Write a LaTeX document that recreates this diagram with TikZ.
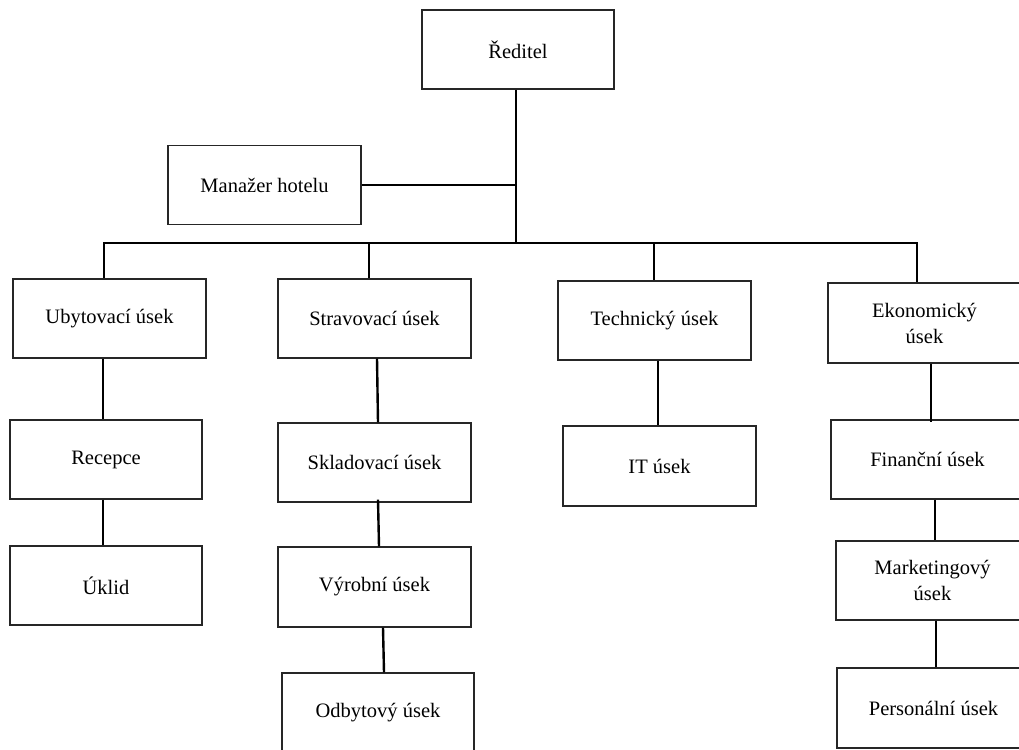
\documentclass[tikz,border=0pt]{standalone}
\usepackage{fontspec}
\setmainfont{Liberation Serif}
\begin{document}
\begin{tikzpicture}[x=1pt,y=-1pt,
  orgbox/.style={draw=black!85, line width=1.2pt, rectangle, inner sep=0pt,
    minimum width=193pt, minimum height=79pt, align=center,
    font=\fontsize{20.5}{26}\selectfont},
  link/.style={draw=black, line width=2.4pt}]
\clip (0,0) rectangle (1019,749);
\fill[white] (0,0) rectangle (1019,749);
% boxes (centres)
\node[orgbox, minimum width=192pt] (red) at (518,49.5) {Ředitel};
\node[orgbox] (man) at (264.5,185) {Manažer hotelu};
\node[orgbox] (uby) at (109.5,318.5) {Ubytovací úsek};
\node[orgbox] (str) at (374.5,318.5) {Stravovací úsek};
\node[orgbox] (tech) at (654.5,320.5) {Technický úsek};
\node[orgbox, minimum height=80pt] (eko) at (924.5,323) {Ekonomický\\úsek};
\node[orgbox, minimum width=192pt] (rec) at (106,459.5) {Recepce};
\node[orgbox] (skl) at (374.5,462.5) {Skladovací úsek};
\node[orgbox, minimum height=80pt] (it) at (659.5,466) {IT úsek};
\node[orgbox] (fin) at (927.5,459.5) {Finanční úsek};
\node[orgbox, minimum width=192pt] (ukl) at (106,585.5) {Úklid};
\node[orgbox, minimum height=80pt] (vyr) at (374.5,587) {Výrobní úsek};
\node[orgbox] (mkt) at (932.5,580.5) {Marketingový\\úsek};
\node[orgbox, minimum width=192pt] (odb) at (378,712.5) {Odbytový úsek};
\node[orgbox, minimum height=80pt] (per) at (933.5,708) {Personální úsek};
% bus coordinates
\coordinate (bus) at (516,243);
\coordinate (busL) at (104,243);
\coordinate (busR) at (917,243);
\coordinate (d2) at (369,243);
\coordinate (d3) at (654,243);
% connectors
\draw[link] ([xshift=-2pt]red.south) -- (bus);
\draw[link] (man.east) -- (man.east -| bus);
\draw[link, line cap=rect] (busL) -- (busR);
\draw[link] (busL) -- (busL |- uby.north);
\draw[link] (d2) -- (d2 |- str.north);
\draw[link] (d3) -- (d3 |- tech.north);
\draw[link] (busR) -- (busR |- eko.north);
\draw[link] ([xshift=-6.5pt]uby.south) -- ([xshift=-3pt]rec.north);
\draw[link] ([xshift=-3pt]rec.south) -- ([xshift=-3pt]ukl.north);
\draw[link] ([xshift=2.5pt]str.south) -- ([xshift=3.5pt]skl.north);
\draw[link] ([xshift=3.5pt,yshift=3pt]skl.south) -- ([xshift=4.5pt]vyr.north);
\draw[link] ([xshift=8.5pt]vyr.south) -- ([xshift=6pt]odb.north);
\draw[link] ([xshift=3.5pt]tech.south) -- ([xshift=-1.5pt]it.north);
\draw[link] ([xshift=6.5pt]eko.south) -- ([xshift=3.5pt,yshift=-3pt]fin.north);
\draw[link] ([xshift=7.5pt]fin.south) -- ([xshift=2.5pt]mkt.north);
\draw[link] ([xshift=3.5pt]mkt.south) -- ([xshift=2.5pt]per.north);
\end{tikzpicture}
\end{document}
